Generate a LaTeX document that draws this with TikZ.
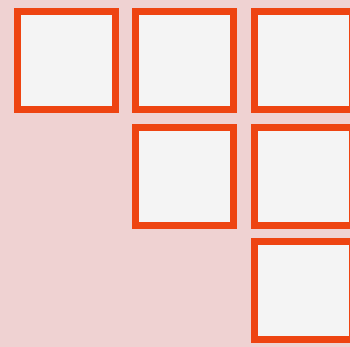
\documentclass[tikz,border=0pt]{standalone}
\usepackage{tikz}
\usetikzlibrary{positioning}

\definecolor{paperpink}{HTML}{EFD2D2}
\definecolor{tileedge}{HTML}{EE4411}
\definecolor{tilefill}{HTML}{F4F4F4}

\begin{document}
\begin{tikzpicture}[
    x=0.03cm, y=-0.03cm,
    tile/.style = {rectangle, draw=tileedge, fill=tilefill, line width=0.21cm,
                   minimum size=2.94cm, inner sep=0pt},
]

% --- background paper ---
\fill[paperpink] (0, 0) rectangle (350, 347);
\useasboundingbox (0, 0) rectangle (350, 347);

% --- first row: three tiles ---
\node[tile] (t11) at (66.5, 60.5)  {};
\node[tile] (t12) at (184.5, 60.5) {};
\node[tile] (t13) at (303.5, 60.5) {};

% --- second row: two tiles ---
\node[tile] (t22) at (184.5, 177)  {};
\node[tile] (t23) at (303.5, 177)  {};

% --- third row: one tile ---
\node[tile] (t33) at (303.5, 291)  {};

\end{tikzpicture}
\end{document}
